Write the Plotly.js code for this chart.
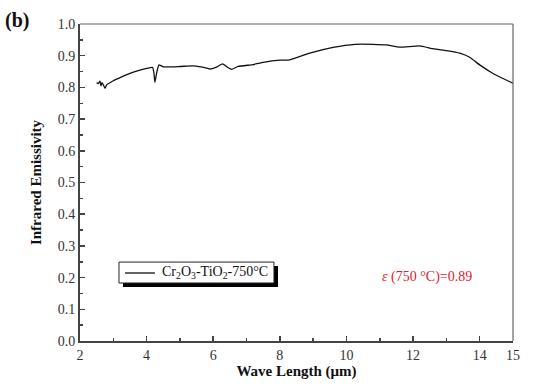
<!DOCTYPE html>
<html>
<head>
<meta charset="utf-8">
<script src="https://cdn.plot.ly/plotly-3.0.1.min.js"></script>
<style>html,body{margin:0;padding:0;background:#fff;}#chart{width:536px;height:391px;}</style>
</head>
<body>
<div id="chart"></div>
<script>
const wavelength = [2.5, 2.55, 2.6, 2.63, 2.66, 2.7, 2.75, 2.8, 3.0, 3.25, 3.5, 3.75, 4.0, 4.18, 4.22, 4.25, 4.3, 4.37, 4.5, 5.0, 5.4, 5.8, 5.9, 6.1, 6.28, 6.45, 6.55, 6.75, 7.2, 7.5, 8.0, 8.3, 8.9, 9.6, 10.26, 10.8, 11.2, 11.6, 12.2, 12.6, 13.0, 13.4, 13.7, 14.0, 14.4, 14.7, 15.0];
const emissivity = [0.815, 0.812, 0.820, 0.805, 0.815, 0.808, 0.797, 0.808, 0.821, 0.833, 0.844, 0.853, 0.860, 0.863, 0.845, 0.816, 0.845, 0.871, 0.865, 0.866, 0.868, 0.861, 0.858, 0.864, 0.874, 0.862, 0.857, 0.866, 0.872, 0.879, 0.886, 0.887, 0.908, 0.926, 0.936, 0.936, 0.934, 0.927, 0.931, 0.922, 0.916, 0.908, 0.895, 0.871, 0.844, 0.828, 0.813];
const seriesName = 'Cr<sub>2</sub>O<sub>3</sub>-TiO<sub>2</sub>-750°C';
const xTicks = [2, 4, 6, 8, 10, 12, 14, 15];
const xMinor = [3, 5, 7, 9, 11, 13];
const yTicks = [0, 0.1, 0.2, 0.3, 0.4, 0.5, 0.6, 0.7, 0.8, 0.9, 1.0];
const yTickText = ['0.0', '0.1', '0.2', '0.3', '0.4', '0.5', '0.6', '0.7', '0.8', '0.9', '1.0'];
const noteText = '<i>ε</i> (750 °C)=0.89';
const panelLabel = '(b)';

const serif = 'Liberation Serif';
const trace = {
  x: wavelength, y: emissivity, type: 'scatter', mode: 'lines',
  name: seriesName, showlegend: false,
  line: {color: '#111', width: 1.3, shape: 'spline', smoothing: 0.4}
};
const layout = {
  width: 536, height: 391,
  margin: {l: 80, r: 23, t: 24, b: 50},
  paper_bgcolor: '#fff', plot_bgcolor: '#fff',
  font: {family: serif, color: '#333', size: 14},
  showlegend: false,
  xaxis: {range: [2, 15], tickvals: xTicks, ticks: 'inside', ticklen: 5, tickwidth: 1.5, tickcolor: '#444',
          showgrid: false, zeroline: false, showline: true, linecolor: '#444', linewidth: 2,
          tickfont: {family: serif, size: 14, color: '#333'},
          minor: {tickvals: xMinor, ticks: 'inside', ticklen: 3, tickwidth: 1.5, tickcolor: '#444', showgrid: false},
          title: {text: '<b>Wave Length (μm)</b>', font: {family: serif, size: 15, color: '#111'}, standoff: 4}},
  yaxis: {range: [0, 1.0], tickvals: yTicks, ticktext: yTickText, ticks: 'inside', ticklen: 5, tickwidth: 1.5, tickcolor: '#444',
          showgrid: false, zeroline: false, showline: true, linecolor: '#444', linewidth: 2,
          tickfont: {family: serif, size: 14, color: '#333'},
          minor: {dtick: 0.05, tick0: 0, ticks: 'inside', ticklen: 3, tickwidth: 1.5, tickcolor: '#444', showgrid: false},
          title: {text: '<b>Infrared Emissivity</b>', font: {family: serif, size: 15, color: '#111'}, standoff: 12}},
  shapes: [
    {type: 'line', xref: 'paper', yref: 'paper', x0: 0, x1: 1, y0: 1, y1: 1, line: {color: '#666', width: 1.2}},
    {type: 'line', xref: 'paper', yref: 'paper', x0: 1, x1: 1, y0: 0, y1: 1, line: {color: '#666', width: 1.2}},
    {type: 'rect', xref: 'paper', yref: 'paper', x0: 0.0993, x1: 0.4573, y0: 0.1703, y1: 0.2366, fillcolor: '#000', line: {width: 0}},
    {type: 'rect', xref: 'paper', yref: 'paper', x0: 0.090, x1: 0.448, y0: 0.183, y1: 0.249, fillcolor: '#fff', line: {color: '#222', width: 1}},
    {type: 'line', xref: 'paper', yref: 'paper', x0: 0.104, x1: 0.173, y0: 0.2145, y1: 0.2145, line: {color: '#111', width: 1.3}}
  ],
  annotations: [
    {text: seriesName, xref: 'paper', yref: 'paper', x: 0.185, y: 0.216, xanchor: 'left', yanchor: 'middle', showarrow: false,
     font: {family: serif, size: 14, color: '#111'}},
    {text: noteText, xref: 'paper', yref: 'paper', x: 0.91, y: 0.202, xanchor: 'right', yanchor: 'middle', showarrow: false,
     font: {family: serif, size: 14, color: '#e0202a'}},
    {text: '<b>' + panelLabel + '</b>', xref: 'paper', yref: 'paper', x: -0.145, y: 1.01, xanchor: 'center', yanchor: 'middle', showarrow: false,
     font: {family: serif, size: 20, color: '#111'}}
  ]
};
Plotly.newPlot('chart', [trace], layout, {displayModeBar: false, staticPlot: true});
</script>
</body>
</html>
